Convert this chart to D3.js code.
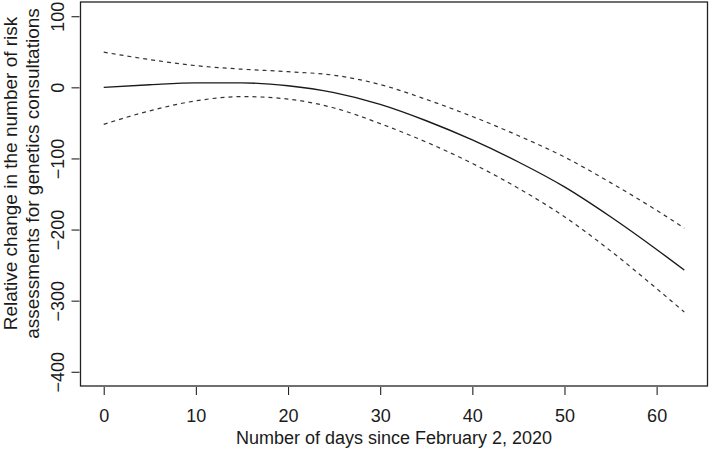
<!DOCTYPE html>
<meta charset="utf-8">
<style>
body { margin: 0; background: #fff; }
svg text { font-family: "Liberation Sans", Arial, Helvetica, sans-serif; fill: #1a1a1a; }
.axis path, .axis line { fill: none; stroke: #222; stroke-width: 1.1; }
.fit  { fill: none; stroke: #1a1a1a; stroke-width: 1.4; }
.band { fill: none; stroke: #333; stroke-width: 1.2; stroke-dasharray: 4,4; }
</style>
<body>
<div id="chart"></div>
<script src="https://d3js.org/d3.v7.min.js"></script>
<script>

// values
var days  = [0, 5, 10, 15, 20, 25, 30, 35, 40, 45, 50, 55, 60, 63];
var fit   = [0, 3.6, 6.2, 6.2, 2.2, -7.5, -24, -47, -74, -105, -140, -182, -228, -257];
var upper = [49.5, 39, 30.5, 25.5, 22, 17, 4, -17, -41, -68, -98, -134, -173, -198];
var lower = [-52, -33, -19, -13, -16.5, -29, -51, -77, -107, -142, -182, -230, -283, -316];

var xTicks = [0, 10, 20, 30, 40, 50, 60];
var yTicks = [100, 0, -100, -200, -300, -400];

var xTitle = "Number of days since February 2, 2020";
var yTitle = ["Relative change in the number of risk",
              "assessments for genetics consultations"];

var chartWidth = 709, chartHeight = 450;
var box = {left: 80.5, right: 707.5, top: 2, bottom: 386};

var svg = d3.select("#chart").append("svg")
    .attr("width", chartWidth)
    .attr("height", chartHeight);

// R style: data range padded by 4%
var x = d3.scaleLinear()
    .domain([-2.52, 65.52])
    .range([box.left, box.right]);

var y = d3.scaleLinear()
    .domain([-420, 120])
    .range([box.bottom, box.top]);

// frame
svg.append("rect")
    .attr("x", box.left)
    .attr("y", box.top)
    .attr("width", box.right - box.left)
    .attr("height", box.bottom - box.top)
    .attr("fill", "none")
    .attr("stroke", "#222")
    .attr("stroke-width", 1.3);

// x axis
var xAxis = svg.append("g")
    .attr("class", "axis")
    .attr("transform", "translate(0," + (box.bottom + 1) + ")")
    .call(d3.axisBottom(x).tickValues(xTicks).tickSize(8).tickPadding(14).tickSizeOuter(0));
xAxis.select(".domain").remove();
xAxis.selectAll("text")
    .attr("font-size", 18)
    .attr("font-family", null);

// y axis
var yAxis = svg.append("g")
    .attr("class", "axis")
    .attr("transform", "translate(" + (box.left - 1) + ",0)")
    .call(d3.axisLeft(y).tickValues(yTicks).tickSize(8).tickFormat(d => d < 0 ? "\u2212" + (-d) : d));
yAxis.select(".domain").remove();
yAxis.selectAll("text")
    .attr("font-size", 18)
    .attr("font-family", null)
    .attr("x", null).attr("dy", null)
    .attr("text-anchor", "middle")
    .attr("transform", "translate(-16,0) rotate(-90)");

// axis titles
svg.append("text")
    .attr("x", (box.left + box.right) / 2)
    .attr("y", 444)
    .attr("text-anchor", "middle")
    .attr("font-size", 18)
    .text(xTitle);

svg.selectAll(".ytitle")
    .data(yTitle)
    .enter().append("text")
    .attr("class", "ytitle")
    .attr("text-anchor", "middle")
    .attr("font-size", 19)
    .attr("transform", (d, i) => "translate(" + (17 + i * 21.5) + ",173.5) rotate(-90)")
    .text(d => d);

// curves
var line = d3.line()
    .curve(d3.curveMonotoneX)
    .x((d, i) => x(days[i]))
    .y(d => y(d));

svg.append("path").datum(upper).attr("class", "band").attr("d", line);
svg.append("path").datum(lower).attr("class", "band").attr("d", line);
svg.append("path").datum(fit).attr("class", "fit").attr("d", line);

</script>
